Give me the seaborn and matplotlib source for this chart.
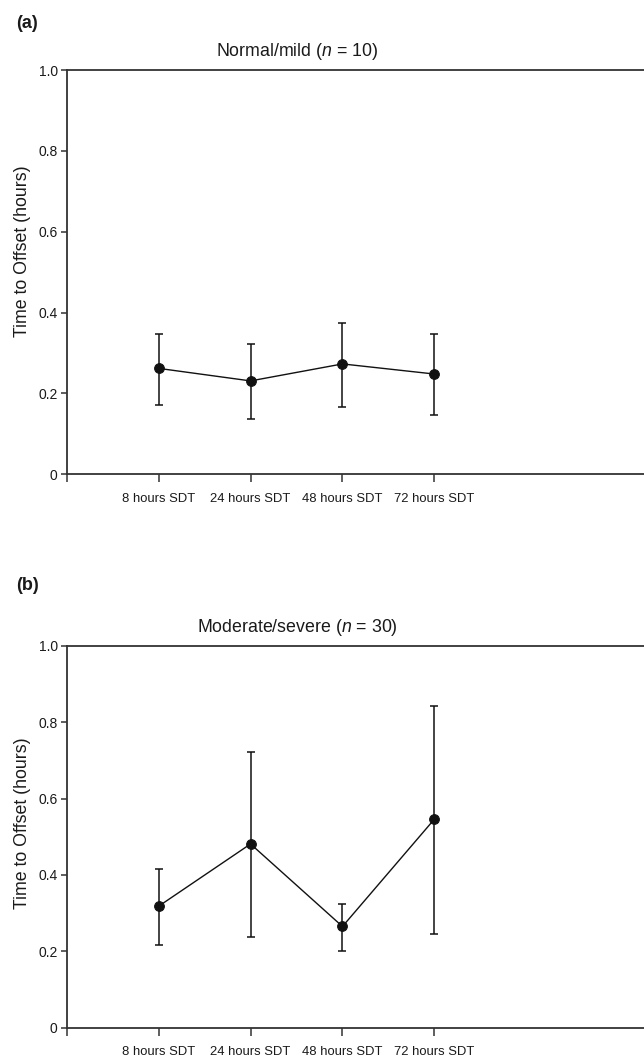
import numpy as np
import pandas as pd
import matplotlib
matplotlib.use("Agg")
import matplotlib.pyplot as plt
import seaborn as sns

# ---- data ----
categories = ["8 hours SDT", "24 hours SDT", "48 hours SDT", "72 hours SDT"]

mild_mean = [0.262, 0.231, 0.273, 0.248]
mild_low = [0.172, 0.137, 0.167, 0.147]
mild_high = [0.348, 0.323, 0.374, 0.348]

severe_mean = [0.318, 0.481, 0.265, 0.546]
severe_low = [0.216, 0.237, 0.202, 0.245]
severe_high = [0.416, 0.722, 0.325, 0.842]

yticks = [0, 0.2, 0.4, 0.6, 0.8, 1.0]
ytick_labels = ["0", "0.2", "0.4", "0.6", "0.8", "1.0"]

titles = ["Normal/mild ($\\mathit{n}$ = 10)", "Moderate/severe ($\\mathit{n}$ = 30)"]
panel_tags = ["(a)", "(b)"]
ylabel = "Time to Offset (hours)"

sns.set_theme(style="white")
plt.rcParams["font.family"] = ["Liberation Sans", "DejaVu Sans"]
plt.rcParams["mathtext.fontset"] = "custom"
plt.rcParams["mathtext.it"] = "Liberation Sans:italic"
plt.rcParams["mathtext.rm"] = "Liberation Sans"

W, H = 644, 1060
fig = plt.figure(figsize=(W / 100, H / 100), dpi=100)

# axes rectangles in pixels: (left, top, right, bottom)
rects = [(66.7, 70.0, 644.0, 474.3), (66.7, 645.7, 644.0, 1027.7)]
ylab_y = [0.552, 0.536]
tag_pos = [(27, 23.5), (27.5, 585)]

spine_col = "#333333"
text_col = "#1a1a1a"
datasets = [(mild_mean, mild_low, mild_high), (severe_mean, severe_low, severe_high)]

for i, (l, t, r, b) in enumerate(rects):
    ax = fig.add_axes([l / W, 1 - b / H, (r - l) / W, (b - t) / H])
    mean, low, high = [np.array(a) for a in datasets[i]]
    xpos = np.arange(1, len(categories) + 1)
    df = pd.DataFrame({"x": xpos, "y": mean})
    ax.errorbar(xpos, mean, yerr=[mean - low, high - mean], fmt="none",
                ecolor="#111111", elinewidth=1.1, capsize=3.2, capthick=1.1, zorder=2)
    sns.lineplot(data=df, x="x", y="y", ax=ax, color="#111111", linewidth=1.0,
                 marker="o", markersize=7, markeredgecolor="#111111",
                 markerfacecolor="#111111", zorder=3)
    ax.set_xlim(0, 6.28)
    ax.set_ylim(0, 1.0)
    ax.set_xticks(np.concatenate([[0], xpos]))
    ax.set_xticklabels([""] + categories, fontsize=9.4, color=text_col)
    ax.set_yticks(yticks)
    ax.set_yticklabels(ytick_labels, fontsize=10, color=text_col)
    ax.set_xlabel("")
    ax.set_ylabel(ylabel, fontsize=12.8, color=text_col)
    ax.yaxis.set_label_coords(-0.062, ylab_y[i])
    ax.tick_params(axis="x", direction="out", length=5.5, width=1.1,
                   color=spine_col, pad=8, bottom=True)
    ax.tick_params(axis="y", direction="out", length=4.5, width=1.1,
                   color=spine_col, pad=2, left=True)
    for s in ["left", "top", "bottom"]:
        ax.spines[s].set_visible(True)
        ax.spines[s].set_color(spine_col)
        ax.spines[s].set_linewidth(1.3)
    ax.spines["right"].set_visible(False)
    ax.set_title(titles[i], fontsize=12.8, x=0.40, pad=10, color=text_col)
    ax.patch.set_alpha(0)
    fig.text(tag_pos[i][0] / W, 1 - tag_pos[i][1] / H, panel_tags[i],
             fontsize=13, fontweight="bold", ha="center", va="center",
             color=text_col)

fig.savefig("out.png", dpi=100)
